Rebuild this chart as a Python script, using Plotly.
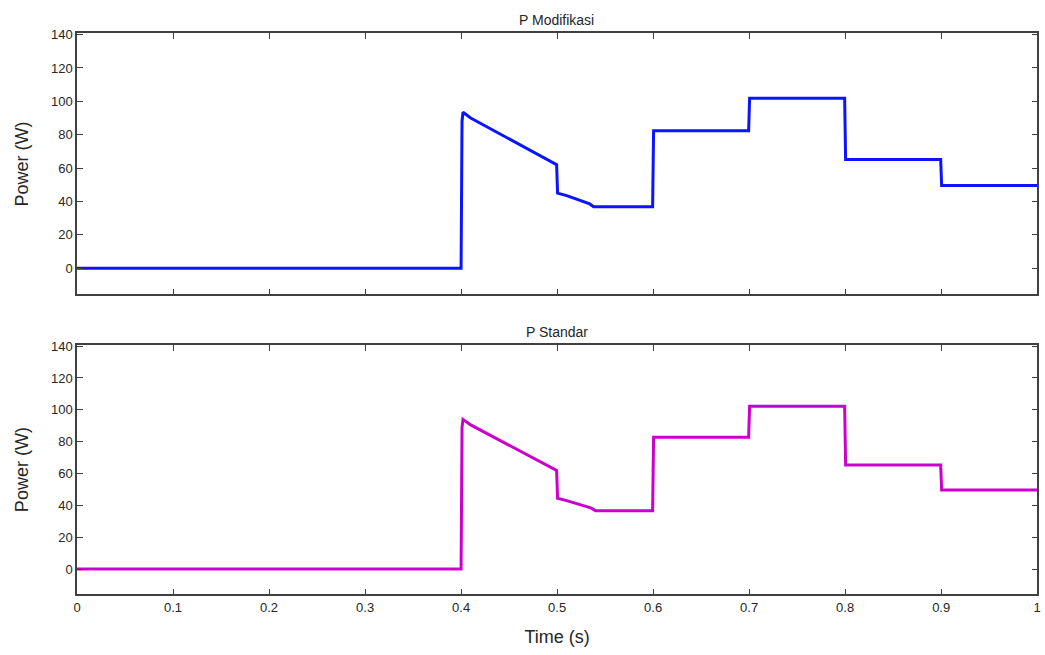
import plotly.graph_objects as go
from plotly.subplots import make_subplots

# ---- data ----
t_mod = [0.0, 0.4, 0.401, 0.402, 0.41, 0.44, 0.47, 0.4995, 0.5005,
         0.51, 0.534, 0.538, 0.56, 0.5995, 0.6005, 0.65, 0.6995, 0.7005, 0.75, 0.7995,
         0.8005, 0.85, 0.8995, 0.9005, 0.95, 1.0]
p_mod = [0.0, 0.0, 88.0, 93.5, 90.0, 80.5, 71.5, 62.0, 45.0,
         43.5, 38.5, 36.8, 36.8, 36.8, 82.3, 82.2, 82.3, 101.8, 101.6, 101.8,
         65.2, 65.0, 65.2, 49.6, 49.5, 49.6]

t_std = [0.0, 0.4, 0.401, 0.402, 0.41, 0.44, 0.47, 0.4995, 0.5005,
         0.51, 0.535, 0.54, 0.56, 0.5995, 0.6005, 0.65, 0.6995, 0.7005, 0.75, 0.7995,
         0.8005, 0.85, 0.8995, 0.9005, 0.95, 1.0]
p_std = [0.0, 0.0, 89.0, 94.0, 90.5, 81.0, 71.8, 62.0, 44.5,
         43.0, 38.5, 36.7, 36.7, 36.7, 82.8, 82.7, 82.8, 102.3, 102.1, 102.3,
         65.4, 65.2, 65.4, 49.7, 49.6, 49.7]

titles = ["P Modifikasi", "P Standar"]
y_ticks = [0, 20, 40, 60, 80, 100, 120, 140]
x_ticks = [0, 0.1, 0.2, 0.3, 0.4, 0.5, 0.6, 0.7, 0.8, 0.9, 1.0]
x_tick_labels = ["0", "0.1", "0.2", "0.3", "0.4", "0.5", "0.6", "0.7", "0.8", "0.9", "1"]

fig = make_subplots(rows=2, cols=1)

fig.add_trace(go.Scatter(x=t_mod, y=p_mod, mode="lines",
                         line=dict(color="#0a14ff", width=3), showlegend=False),
              row=1, col=1)
fig.add_trace(go.Scatter(x=t_std, y=p_std, mode="lines",
                         line=dict(color="#cc00cc", width=3), showlegend=False),
              row=2, col=1)

axis_col = "#404040"
tick_font = dict(family="Liberation Sans Narrow, Arial Narrow, Liberation Sans, Arial", size=13, color="#262626")

common_x = dict(range=[0, 1.0001], tickvals=x_ticks, ticktext=x_tick_labels,
                ticks="inside", ticklen=6, tickcolor=axis_col, showline=True,
                linecolor=axis_col, linewidth=1.5, mirror="ticks", showgrid=False,
                zeroline=False, tickfont=tick_font, automargin=False)
common_y = dict(range=[-15.8, 140.7], tickvals=y_ticks, ticks="inside", ticklen=6,
                tickcolor=axis_col, showline=True, linecolor=axis_col, linewidth=1.5,
                mirror="ticks", showgrid=False, zeroline=False, tickfont=tick_font,
                automargin=False,
                title=dict(text="Power (W)", standoff=18,
                           font=dict(family="Liberation Sans, Arial", size=18, color="#262626")))

fig.update_xaxes(common_x)
fig.update_yaxes(common_y)
fig.update_xaxes(showticklabels=False, domain=[0.0737, 0.9926], row=1, col=1)
fig.update_xaxes(domain=[0.0737, 0.9926], row=2, col=1,
                 title=dict(text="Time (s)", standoff=17,
                            font=dict(family="Liberation Sans, Arial", size=18, color="#262626")))
fig.update_yaxes(domain=[0.5504, 0.9489], row=1, col=1)
fig.update_yaxes(domain=[0.0927, 0.4733], row=2, col=1)

title_font = dict(family="Liberation Sans, Arial", size=14, color="#262626")
fig.add_annotation(text=titles[0], xref="paper", yref="paper", x=0.533, y=0.9489,
                   yshift=3, yanchor="bottom", showarrow=False, font=title_font)
fig.add_annotation(text=titles[1], xref="paper", yref="paper", x=0.533, y=0.4733,
                   yshift=3, yanchor="bottom", showarrow=False, font=title_font)

fig.update_layout(width=1045, height=655, margin=dict(l=0, r=0, t=0, b=0),
                  paper_bgcolor="white", plot_bgcolor="white")

fig.write_html("out.html", config={"displayModeBar": False},
               post_script="document.body.style.margin='0';")
